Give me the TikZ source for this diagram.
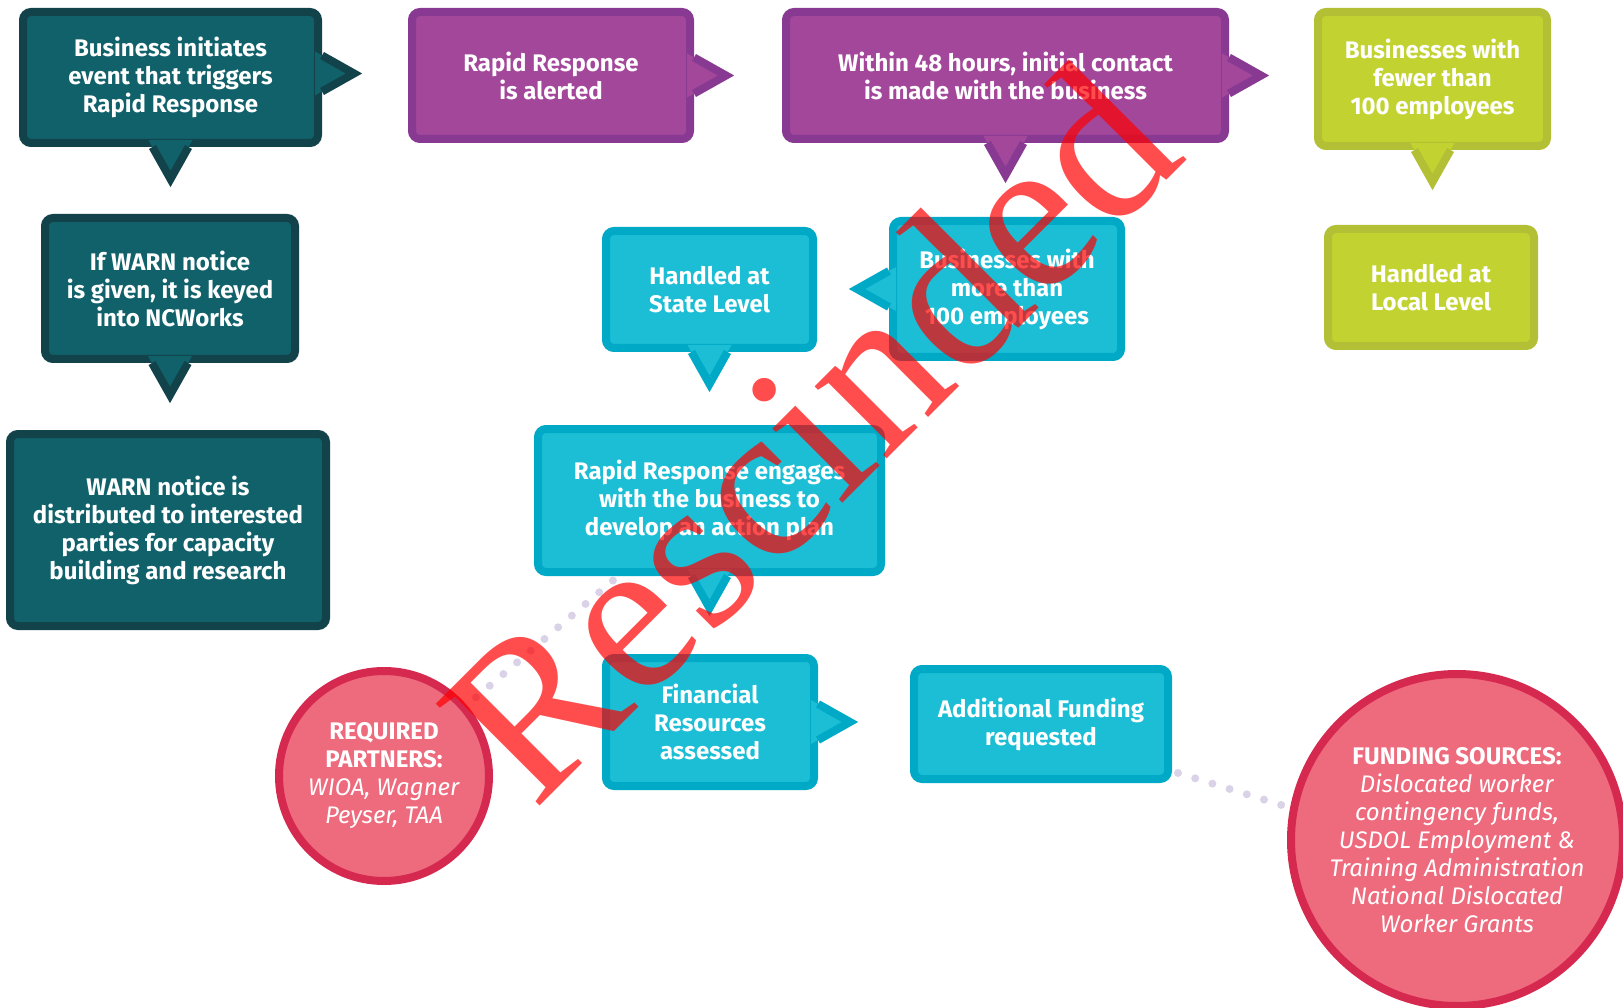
\documentclass[tikz,border=0pt]{standalone}
\usepackage{fontspec}
\setmainfont{Fira Sans}
\newfontfamily\stampfont{Liberation Serif}
\usetikzlibrary{calc}

\definecolor{tealface}{HTML}{11616B}
\definecolor{tealedge}{HTML}{12424A}
\definecolor{plumface}{HTML}{A3479B}
\definecolor{plumedge}{HTML}{883A93}
\definecolor{limeface}{HTML}{C2D331}
\definecolor{limeedge}{HTML}{B3BF35}
\definecolor{cyanface}{HTML}{1CBED5}
\definecolor{cyanedge}{HTML}{00A9C6}
\definecolor{roseface}{HTML}{EE6A7D}
\definecolor{roseedge}{HTML}{D6294F}
\definecolor{dotcol}{HTML}{DAD3E8}

\tikzset{
  bubble/.style={rectangle, rounded corners=8pt, line width=8pt, text=white,
    align=center, inner sep=0pt, font=\bfseries\fontsize{24}{28}\selectfont},
  tealbox/.style={bubble, fill=tealface, draw=tealedge},
  plumbox/.style={bubble, fill=plumface, draw=plumedge},
  limebox/.style={bubble, fill=limeface, draw=limeedge},
  cyanbox/.style={bubble, fill=cyanface, draw=cyanedge},
  spot/.style={circle, line width=8pt, fill=roseface, draw=roseedge, text=white,
    align=center, inner sep=0pt, font=\fontsize{24}{28}\selectfont},
  dotline/.style={dotcol, line width=8pt, line cap=round, dash pattern=on 0pt off 18pt},
  pics/tail/.style={code={
    \fill[#1face] (-7,-22) -- (32,0) -- (-7,22) -- cycle;
    \draw[#1edge, line width=8pt] (0,-18) -- (32,0) -- (0,18);
  }}
}

\begin{document}
\begin{tikzpicture}[x=1pt, y=-1pt]
  \useasboundingbox (0,0) rectangle (1623,1008);

  % left column
  \node[tealbox, minimum width=295pt, minimum height=131pt] (start) at (170.5,77.5)
    {Business initiates\\event that triggers\\Rapid Response};
  \node[tealbox, minimum width=250pt, minimum height=141pt] (keyed) at (170,288.5)
    {If WARN notice\\is given, it is keyed\\into NCWorks};
  \node[tealbox, minimum width=316pt, minimum height=192pt] (spread) at (168,530)
    {WARN notice is\\distributed to interested\\parties for capacity\\building and research};
  \pic at ($(start.east)+(0,-4)$) {tail=teal};
  \pic[rotate=-90] at (start.south) {tail=teal};
  \pic[rotate=-90] at (keyed.south) {tail=teal};

  % top row
  \node[plumbox, minimum width=278pt, minimum height=127pt] (alerted) at (551,75.5)
    {Rapid Response\\is alerted};
  \node[plumbox, minimum width=439pt, minimum height=127pt] (contact) at (1005.5,75.5)
    {Within 48 hours, initial contact\\is made with the business};
  \node[limebox, minimum width=229pt, minimum height=134pt] (fewer) at (1432.5,79)
    {Businesses with\\fewer than\\100 employees};
  \node[limebox, minimum width=206pt, minimum height=117pt] (local) at (1431,287.5)
    {Handled at\\Local Level};
  \pic at (alerted.east) {tail=plum};
  \pic at (contact.east) {tail=plum};
  \pic[rotate=-90] at (contact.south) {tail=plum};
  \pic[rotate=-90] at (fewer.south) {tail=lime};

  % middle
  \node[cyanbox, minimum width=207pt, minimum height=117pt] (state) at (709.5,289.5)
    {Handled at\\State Level};
  \node[cyanbox, minimum width=228pt, minimum height=136pt] (more) at (1007,289)
    {Businesses with\\more than\\100 employees};
  \node[cyanbox, minimum width=343pt, minimum height=143pt] (engages) at (709.5,500.5)
    {Rapid Response engages\\with the business to\\develop an action plan};
  \node[cyanbox, minimum width=208pt, minimum height=128pt] (assessed) at (710,722)
    {Financial\\Resources\\assessed};
  \node[cyanbox, minimum width=254pt, minimum height=110pt] (funding) at (1041,724)
    {Additional Funding\\requested};
  \pic[rotate=-90] at (state.south) {tail=cyan};
  \pic[rotate=180] at (more.west) {tail=cyan};
  \pic[rotate=-90] at (engages.south) {tail=cyan};
  \pic at (assessed.east) {tail=cyan};

  % partner circles
  \node[spot, minimum size=210pt] (partners) at (384,776)
    {\textbf{REQUIRED}\\\textbf{PARTNERS:}\\\textit{WIOA, Wagner}\\\textit{Peyser, TAA}};
  \node[spot, minimum size=332pt] (sources) at (1457,840)
    {\textbf{FUNDING SOURCES:}\\\textit{Dislocated worker}\\\textit{contingency funds,}\\
     \textit{USDOL Employment \&}\\\textit{Training Administration}\\
     \textit{National Dislocated}\\\textit{Worker Grants}};
  \draw[dotline, shorten <=12pt, shorten >=4pt] (partners)
    -- ($(engages.south west)!0.24!(engages.south east)$);
  \draw[dotline] ($(funding.south east)+(6,-10)$) -- ($(sources.west)+(4,-32)$);

  % stamp
  \node[rotate=45, text=red, text opacity=0.7, inner sep=0pt,
    font=\stampfont\fontsize{222}{222}\selectfont] (stamp) at (808,431) {Rescinded};
\end{tikzpicture}
\end{document}
